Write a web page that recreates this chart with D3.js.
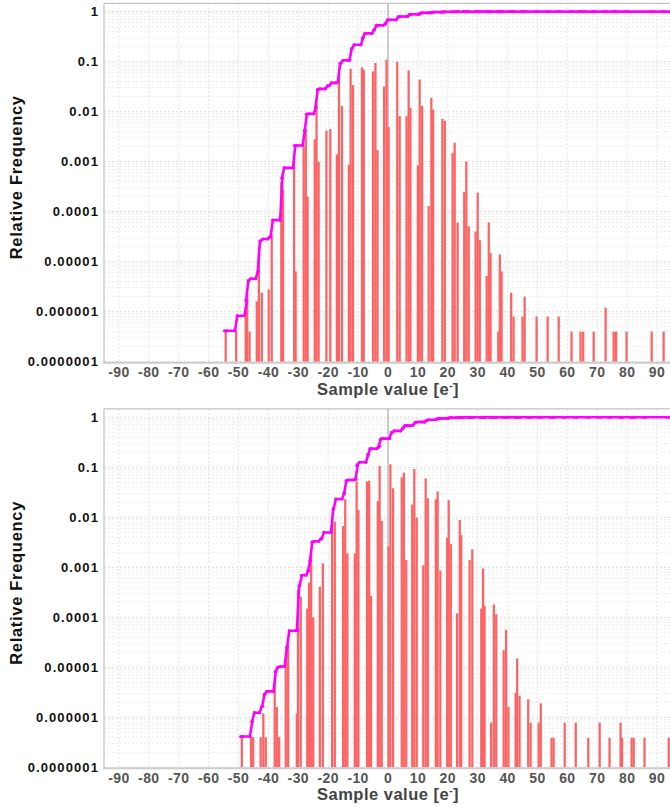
<!DOCTYPE html>
<html>
<head>
<meta charset="utf-8">
<script src="https://cdn.jsdelivr.net/npm/d3@7"></script>
<style>
body{margin:0;background:#fff;overflow:hidden;}
text{font-family:"Liberation Sans",Arial,Helvetica,sans-serif;font-weight:bold;}
</style>
</head>
<body>
<svg width="670" height="807"></svg>
<script>
// top histogram: bin centre [e-] and relative frequency
var topX = [-54.3,-50.8,-47.6,-47.1,-46.3,-43.9,-43.2,-42.2,-39.9,-38.9,
    -35.7,-35.1,-31.4,-30.9,-28.2,-27.5,-26.9,-24.5,-23.9,-23.2,
    -20.6,-19.3,-17.1,-16.4,-15.4,-13.1,-12.5,-11.7,-8.7,-8.1,
    -5.0,-4.2,-3.5,-1.3,-0.5,0.2,3.1,3.9,6.2,6.9,
    7.5,10.0,10.6,11.4,13.6,14.5,15.1,18.2,19.0,21.6,
    22.3,23.3,25.5,26.2,27.0,29.3,30.0,30.7,33.0,33.7,
    34.3,36.9,37.4,38.0,41.2,42.0,45.0,45.7,49.7,53.4,
    57.1,61.4,64.4,65.3,68.8,72.8,75.5,76.3,79.8,88.2,
    92.2];
var topFreq = [4.0e-7,4.0e-7,8.0e-7,2.4e-6,4.0e-7,1.6e-6,1.9e-5,2.4e-6,2.8e-6,3.5e-5,
    3.9e-4,2.7e-4,1.3e-3,6.4e-6,2.0e-3,4.5e-3,2.0e-4,2.8e-3,1.5e-2,1.0e-3,
    4.2e-3,4.5e-3,1.4e-3,5.2e-2,1.3e-2,8.7e-4,7.2e-2,3.4e-2,7.7e-2,6.9e-2,
    6.4e-2,9.4e-2,1.7e-3,3.2e-2,0.11,4.9e-3,9.9e-2,8.1e-3,8.1e-3,6.7e-2,
    1.2e-2,8.4e-4,4.4e-2,1.3e-2,1.3e-4,1.9e-2,1.1e-2,7.2e-3,6.6e-3,1.5e-3,
    2.4e-3,6.1e-5,2.5e-4,1.0e-3,5.1e-5,4.0e-5,2.4e-4,2.7e-5,5.2e-6,6.1e-5,
    1.5e-5,4.0e-7,1.4e-5,6.4e-6,2.4e-6,8.0e-7,8.0e-7,2.0e-6,8.0e-7,8.0e-7,
    8.0e-7,4.0e-7,4.0e-7,4.0e-7,4.0e-7,1.2e-6,4.0e-7,4.0e-7,4.0e-7,4.0e-7,
    4.0e-7];

// bottom histogram
var botX = [-48.9,-45.8,-45.1,-42.6,-41.7,-40.9,-37.9,-37.2,-36.4,-34.2,
    -33.4,-30.5,-30.1,-29.2,-27.0,-26.4,-25.7,-25.0,-22.8,-21.8,
    -18.7,-17.8,-15.0,-14.3,-13.6,-11.1,-10.5,-9.9,-7.0,-6.3,
    -5.7,-3.4,-2.8,-2.1,0.2,0.8,1.7,4.6,5.3,6.1,
    8.1,8.8,9.6,11.8,12.6,13.3,16.0,16.6,17.5,19.8,
    20.3,21.0,23.1,24.0,24.5,27.3,28.2,31.2,31.8,32.3,
    34.5,35.4,36.2,38.7,39.5,40.3,42.7,43.2,44.0,46.9,
    47.7,50.4,51.1,54.7,55.4,59.1,62.8,67.0,70.8,74.1,
    77.8,78.3,81.5,82.2,85.8,93.9];
var botFreq = [4.0e-7,4.0e-7,4.0e-7,4.0e-7,1.2e-6,4.0e-7,4.9e-6,1.6e-6,4.0e-7,1.4e-5,
    2.8e-5,1.2e-6,3.6e-4,2.6e-4,1.5e-4,4.9e-4,1.8e-3,1.0e-4,4.1e-4,1.2e-3,
    9.5e-3,8.2e-3,6.7e-3,2.3e-2,1.9e-3,1.9e-3,5.2e-2,1.4e-2,5.2e-2,5.4e-2,
    2.7e-4,2.1e-2,0.106,8.5e-3,2.6e-3,0.115,3.8e-2,6.3e-2,7.8e-2,1.4e-3,
    1.8e-2,9.2e-2,9.8e-3,1.1e-3,6.0e-2,2.4e-2,2.3e-2,3.3e-2,8.6e-4,3.9e-3,
    2.2e-2,2.9e-3,1.2e-4,8.8e-3,4.4e-3,1.4e-3,2.3e-3,1.5e-4,9.5e-4,1.7e-4,
    7.8e-7,1.8e-4,1.15e-4,2.2e-5,5.6e-5,1.6e-6,3.1e-6,1.5e-5,2.7e-6,2.3e-6,
    7.8e-7,7.8e-7,1.9e-6,3.9e-7,3.9e-7,7.8e-7,7.8e-7,3.9e-7,7.8e-7,3.9e-7,
    7.8e-7,3.9e-7,3.9e-7,3.9e-7,3.9e-7,3.9e-7];

var xTicks = [-90,-80,-70,-60,-50,-40,-30,-20,-10,0,10,20,30,40,50,60,70,80,90];
var yTicks = [1,0.1,0.01,0.001,0.0001,0.00001,0.000001,0.0000001];
var yTickLabels = ["1","0.1","0.01","0.001","0.0001","0.00001","0.000001","0.0000001"];

var binW = 0.75;
var svg = d3.select("svg");
var xScale = d3.scaleLinear().domain([-95,95]).range([104,672]);

function drawPanel(xs, fs, top) {
    var yScale = d3.scaleLog().domain([1e-7,1.47]).range([top+358.4, top]);
    var g = svg.append("g");
    var bottom = yScale(1e-7);

    // grid
    var minor = yScale.ticks().filter(d => d <= 1);
    g.selectAll(".hgrid").data(minor).enter().append("line")
        .attr("x1",104).attr("x2",672)
        .attr("y1",d=>yScale(d)).attr("y2",d=>yScale(d))
        .attr("stroke", d => yTicks.indexOf(d) >= 0 ? "#dcdcdc" : "#ececec")
        .attr("stroke-dasharray","2,2");
    g.selectAll(".vgrid").data(xTicks).enter().append("line")
        .attr("x1",d=>xScale(d)).attr("x2",d=>xScale(d))
        .attr("y1",top).attr("y2",bottom)
        .attr("stroke","#e4e4e4")
        .attr("stroke-dasharray","2,2");

    // zero line
    g.append("line")
        .attr("x1",xScale(0)).attr("x2",xScale(0))
        .attr("y1",top).attr("y2",bottom)
        .attr("stroke","#a0a0a0");

    // bars
    g.selectAll(".bar").data(xs).enter().append("rect")
        .attr("x",d=>xScale(d-binW/2))
        .attr("width",xScale(binW)-xScale(0))
        .attr("y",(d,i)=>yScale(fs[i]))
        .attr("height",(d,i)=>bottom-yScale(fs[i]))
        .attr("fill","#ff6262");

    // cumulative
    var total = d3.sum(fs), cum = 0, pts = [];
    xs.forEach(function(v,i) {
        var before = cum/total;
        cum += fs[i];
        pts.push([v-binW/2, i == 0 ? cum/total : before]);
        pts.push([v+binW/2, cum/total]);
    });
    pts.push([95, 1]);
    var line = d3.line().x(d=>xScale(d[0])).y(d=>yScale(d[1]));
    g.append("path").attr("d",line(pts))
        .attr("fill","none").attr("stroke","#ff00ff").attr("stroke-width",2.6);
    g.selectAll(".dot").data(pts).enter().append("circle")
        .attr("cx",d=>xScale(d[0])).attr("cy",d=>yScale(d[1]))
        .attr("r",1.6).attr("fill","#ff00ff");

    // frame
    g.append("line").attr("x1",104).attr("x2",104).attr("y1",top).attr("y2",bottom+1)
        .attr("stroke","#b4b4b4");
    g.append("line").attr("x1",104).attr("x2",672).attr("y1",top).attr("y2",top)
        .attr("stroke","#b4b4b4");
    g.append("line").attr("x1",103).attr("x2",672).attr("y1",bottom+1).attr("y2",bottom+1)
        .attr("stroke","#cccccc").attr("stroke-width",2);

    // y labels
    g.selectAll(".ylab").data(yTicks).enter().append("text")
        .attr("x",99).attr("y",d=>yScale(d)).attr("dy","0.36em")
        .attr("text-anchor","end")
        .style("font-size","13px").style("letter-spacing","1.1px")
        .attr("fill","#111")
        .text((d,i)=>yTickLabels[i]);

    // x labels
    g.selectAll(".xlab").data(xTicks).enter().append("text")
        .attr("x",d=>xScale(d)).attr("y",bottom+15.5)
        .attr("text-anchor","middle")
        .style("font-size","14px").style("letter-spacing","0.4px")
        .attr("fill","#555")
        .text(d=>d);

    var xt = g.append("text")
        .attr("x",388).attr("y",bottom+33)
        .attr("text-anchor","middle")
        .style("font-size","16.5px").style("letter-spacing","0.5px")
        .attr("fill","#444");
    xt.append("tspan").text("Sample value [e");
    xt.append("tspan").attr("dy",-6).style("font-size","10px").text("-");
    xt.append("tspan").attr("dy",6).text("]");

    g.append("text")
        .attr("transform","translate(21.5," + (top+174) + ") rotate(-90)")
        .attr("text-anchor","middle")
        .style("font-size","16.5px").style("letter-spacing","0.7px")
        .attr("fill","#111")
        .text("Relative Frequency");
}

drawPanel(topX, topFreq, 3.3);
drawPanel(botX, botFreq, 408.9);
</script>
</body>
</html>
